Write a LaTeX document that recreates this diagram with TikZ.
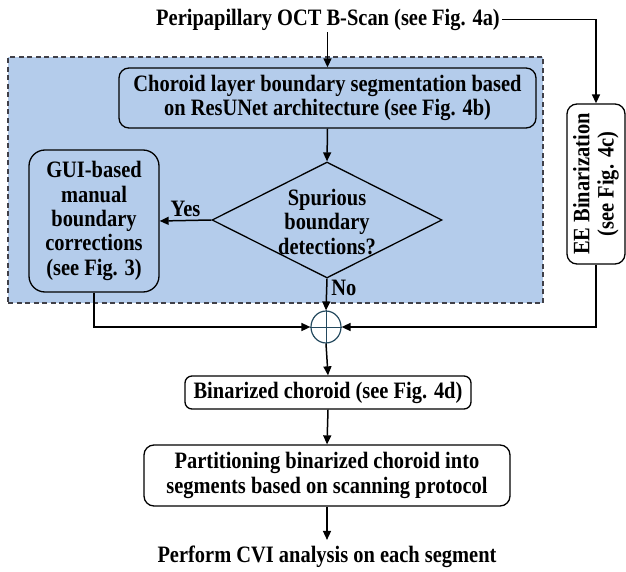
\documentclass[tikz,border=0pt]{standalone}
\usepackage{fontspec}
\setmainfont{Liberation Serif}[FakeStretch=0.87]
\usetikzlibrary{shapes.geometric,arrows.meta}
\definecolor{bgblue}{HTML}{B4CCEB}
\definecolor{circcol}{HTML}{24495E}
\definecolor{dashcol}{HTML}{404048}
\begin{document}
\begin{tikzpicture}[x=1pt,y=-1pt,
  font=\fontsize{23.5}{24.3}\selectfont\bfseries,
  box/.style={draw, line width=1.3pt, rounded corners=10pt, align=center, inner sep=0pt},
  arr/.style={line width=1.5pt, -{Triangle[length=9pt,width=8pt]}},
  lbl/.style={inner sep=2pt}]
\useasboundingbox (0,0) rectangle (626,572);
% shaded region
\node[draw=dashcol, dashed, dash pattern=on 5pt off 3.5pt, line width=1.2pt, fill=bgblue,
      minimum width=535pt, minimum height=246pt, inner sep=0pt] (region) at (275.5,180) {};
% nodes
\node[lbl] (top) at (328,19.5) {Peripapillary OCT B-Scan (see Fig. 4a)};
\node[box, fill=bgblue, minimum width=417pt, minimum height=60pt] (seg) at (327.5,98)
  {Choroid layer boundary segmentation based\\on ResUNet architecture (see Fig. 4b)};
\node[diamond, draw, line width=1.3pt, minimum width=230pt, minimum height=116pt, inner sep=0pt] (dia) at (327,220) {};
\node[align=center, inner sep=0pt] (diat) at (327,222) {Spurious\\boundary\\detections?};
\node[box, fill=bgblue, rounded corners=16pt, minimum width=130pt, minimum height=142pt] (gui) at (94,221)
  {GUI-based\\manual\\boundary\\corrections\\(see Fig. 3)};
\node[box, fill=white, rotate=90, minimum width=160pt, minimum height=58pt] (ee) at (596,184)
  {EE Binarization\\(see Fig. 4c)};
\node[ellipse, draw=circcol, line width=1.2pt, fill=white, minimum width=30pt, minimum height=32pt, inner sep=0pt] (circ) at (326,327) {};
\draw[circcol, line width=0.8pt] (circ.north) -- (circ.south) (circ.west) -- (circ.east);
\node[box, rounded corners=7pt, minimum width=286pt, minimum height=33pt] (bin) at (328,392.5)
  {Binarized choroid (see Fig. 4d)};
\node[box, minimum width=366pt, minimum height=61pt] (part) at (327,475.5)
  {Partitioning binarized choroid into\\segments based on scanning protocol};
\node[lbl] (cvi) at (327,557) {Perform CVI analysis on each segment};
% connectors
\draw[arr] (top.south -| seg.north) -- (seg.north);
\draw[arr] (top.east) -- (top.east -| ee.east) -- (ee.east);
\draw[arr] (seg.south) -- (dia.north);
\draw[arr] (dia.west) -- (gui.east) node[midway, above=1pt, lbl] (yes) {Yes};
\draw[arr] (dia.south) -- (circ.north) node[pos=0.3, right=2pt, lbl] (no) {No};
\draw[arr] (gui.south) |- (circ.west);
\draw[arr] (ee.west) |- (circ.east);
\draw[arr] (circ.south) -- (bin.north);
\draw[arr] (bin.south) -- (part.north);
\draw[arr, shorten >=4pt] (part.south) -- (cvi.north);
\end{tikzpicture}
\end{document}
